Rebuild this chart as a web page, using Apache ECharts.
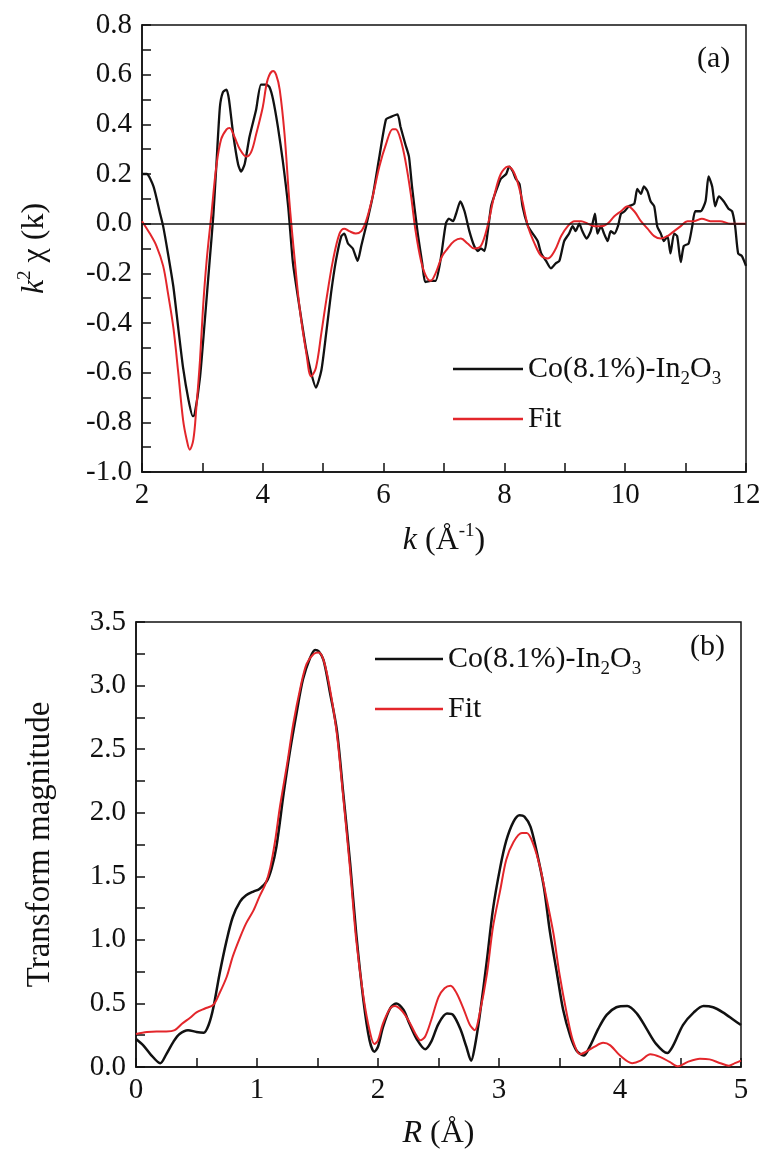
<!DOCTYPE html>
<html>
<head>
<meta charset="utf-8">
<title>EXAFS fit</title>
<script src="https://cdn.jsdelivr.net/npm/echarts@6/dist/echarts.min.js"></script>
<style>
  html, body { margin: 0; padding: 0; background: #fff; }
  #chart { width: 765px; height: 1158px; }
</style>
</head>
<body>
<div id="chart"></div>
<script>
// (a) k-space: measured chi(k)*k^2 and fit
var kExp = [2.0, 2.08, 2.19, 2.30, 2.35, 2.43, 2.52, 2.60, 2.68, 2.77, 2.84, 2.87, 2.96, 3.04, 3.12, 3.18, 3.23, 3.29, 3.34, 3.40,
    3.44, 3.51, 3.59, 3.64, 3.70, 3.78, 3.89, 3.97, 4.06, 4.11, 4.17, 4.25, 4.33, 4.42, 4.50, 4.61, 4.72, 4.80, 4.88, 4.97,
    5.05, 5.13, 5.21, 5.30, 5.35, 5.41, 5.49, 5.57, 5.63, 5.71, 5.82, 5.93, 6.04, 6.12, 6.23, 6.28, 6.36, 6.42, 6.47, 6.56,
    6.64, 6.69, 6.78, 6.86, 6.94, 7.03, 7.08, 7.15, 7.20, 7.27, 7.34, 7.42, 7.50, 7.56, 7.61, 7.67, 7.72, 7.78, 7.83, 7.89,
    7.94, 8.03, 8.08, 8.14, 8.19, 8.25, 8.30, 8.39, 8.47, 8.55, 8.61, 8.69, 8.77, 8.85, 8.91, 8.99, 9.07, 9.13, 9.18, 9.24,
    9.29, 9.36, 9.43, 9.50, 9.54, 9.60, 9.65, 9.71, 9.76, 9.82, 9.88, 9.93, 9.99, 10.06, 10.15, 10.20, 10.26, 10.31, 10.37, 10.42,
    10.48, 10.53, 10.59, 10.64, 10.70, 10.75, 10.81, 10.86, 10.92, 10.97, 11.05, 11.11, 11.16, 11.25, 11.33, 11.38, 11.44, 11.49, 11.55, 11.63,
    11.71, 11.77, 11.82, 11.87, 11.93, 12.0];
var chiExp = [0.20, 0.20, 0.15, 0.04, -0.01, -0.12, -0.255, -0.42, -0.58, -0.71, -0.775, -0.77, -0.62, -0.39, -0.15, 0.03, 0.23, 0.47, 0.53, 0.54,
    0.50, 0.36, 0.24, 0.21, 0.24, 0.35, 0.46, 0.56, 0.56, 0.55, 0.50, 0.39, 0.255, 0.07, -0.16, -0.34, -0.51, -0.60, -0.66, -0.59,
    -0.44, -0.28, -0.15, -0.05, -0.04, -0.08, -0.10, -0.15, -0.09, -0.01, 0.11, 0.27, 0.42, 0.43, 0.44, 0.39, 0.32, 0.27, 0.15, -0.03,
    -0.16, -0.235, -0.23, -0.23, -0.15, 0.0, 0.02, 0.01, 0.04, 0.09, 0.05, -0.03, -0.09, -0.11, -0.10, -0.11, -0.04, 0.07, 0.11, 0.15,
    0.18, 0.20, 0.23, 0.21, 0.18, 0.16, 0.07, -0.01, -0.04, -0.07, -0.12, -0.15, -0.18, -0.16, -0.15, -0.07, -0.04, -0.01, -0.03, 0.0,
    -0.03, -0.06, -0.03, 0.04, -0.04, -0.01, -0.04, -0.07, -0.03, -0.04, -0.01, 0.04, 0.05, 0.07, 0.08, 0.14, 0.12, 0.15, 0.13, 0.09,
    0.07, -0.01, -0.04, -0.07, -0.05, -0.12, -0.04, -0.05, -0.155, -0.09, -0.08, -0.01, 0.05, 0.05, 0.09, 0.19, 0.15, 0.07, 0.11, 0.09,
    0.06, 0.05, -0.01, -0.12, -0.13, -0.17];
var kFit = [2.0, 2.13, 2.24, 2.35, 2.43, 2.52, 2.60, 2.68, 2.74, 2.79, 2.85, 2.90, 2.96, 3.01, 3.07, 3.15, 3.23, 3.31, 3.40, 3.45,
    3.53, 3.62, 3.73, 3.81, 3.89, 4.00, 4.08, 4.17, 4.22, 4.28, 4.36, 4.44, 4.53, 4.61, 4.72, 4.80, 4.88, 4.97, 5.05, 5.16,
    5.27, 5.35, 5.43, 5.54, 5.63, 5.71, 5.82, 5.93, 6.04, 6.15, 6.20, 6.28, 6.36, 6.45, 6.53, 6.62, 6.70, 6.78, 6.86, 6.97,
    7.06, 7.17, 7.28, 7.39, 7.50, 7.61, 7.72, 7.83, 7.94, 8.06, 8.17, 8.28, 8.39, 8.50, 8.61, 8.72, 8.83, 8.94, 9.05, 9.16,
    9.27, 9.38, 9.49, 9.60, 9.71, 9.82, 9.93, 10.04, 10.15, 10.26, 10.37, 10.48, 10.59, 10.70, 10.81, 10.92, 11.03, 11.14, 11.27, 11.41,
    11.57, 11.74, 12.0];
var chiFit = [0.01, -0.04, -0.09, -0.17, -0.28, -0.42, -0.60, -0.79, -0.87, -0.91, -0.87, -0.74, -0.55, -0.34, -0.15, 0.04, 0.23, 0.34, 0.38, 0.385,
    0.35, 0.30, 0.27, 0.29, 0.36, 0.47, 0.58, 0.615, 0.60, 0.54, 0.36, 0.09, -0.15, -0.34, -0.52, -0.615, -0.58, -0.44, -0.31, -0.15,
    -0.04, -0.02, -0.03, -0.04, -0.03, 0.01, 0.11, 0.23, 0.32, 0.38, 0.38, 0.34, 0.255, 0.12, -0.03, -0.15, -0.21, -0.23, -0.20, -0.13,
    -0.10, -0.07, -0.06, -0.08, -0.10, -0.09, -0.01, 0.11, 0.20, 0.23, 0.20, 0.11, -0.01, -0.08, -0.13, -0.14, -0.11, -0.05, -0.01, 0.01,
    0.01, 0.0, -0.01, -0.01, 0.0, 0.03, 0.05, 0.07, 0.05, 0.01, -0.02, -0.05, -0.06, -0.05, -0.03, -0.01, 0.01, 0.01, 0.02, 0.01,
    0.01, 0.0, 0.0];

// (b) R-space: Fourier transform magnitude and fit
var rExp = [0, 0.06, 0.12, 0.20, 0.25, 0.31, 0.36, 0.43, 0.50, 0.56, 0.60, 0.64, 0.69, 0.75, 0.80, 0.86, 0.91, 0.97, 1.02, 1.08,
    1.12, 1.16, 1.22, 1.27, 1.33, 1.38, 1.44, 1.48, 1.51, 1.55, 1.60, 1.66, 1.71, 1.77, 1.82, 1.88, 1.93, 1.97, 2.00, 2.04,
    2.10, 2.15, 2.21, 2.26, 2.32, 2.39, 2.44, 2.50, 2.57, 2.62, 2.68, 2.73, 2.77, 2.80, 2.84, 2.90, 2.95, 3.01, 3.06, 3.12,
    3.17, 3.21, 3.26, 3.31, 3.37, 3.42, 3.48, 3.53, 3.59, 3.64, 3.70, 3.75, 3.82, 3.89, 3.97, 4.06, 4.14, 4.22, 4.30, 4.39,
    4.44, 4.52, 4.61, 4.69, 4.77, 4.85, 4.94, 5.0];
var ftExp = [0.22, 0.17, 0.10, 0.03, 0.10, 0.20, 0.26, 0.29, 0.275, 0.27, 0.33, 0.47, 0.73, 1.0, 1.18, 1.30, 1.35, 1.38, 1.40, 1.46,
    1.56, 1.73, 2.15, 2.47, 2.80, 3.05, 3.22, 3.28, 3.27, 3.20, 2.96, 2.65, 2.18, 1.60, 1.05, 0.52, 0.21, 0.12, 0.16, 0.31,
    0.46, 0.50, 0.45, 0.34, 0.22, 0.14, 0.20, 0.34, 0.42, 0.41, 0.30, 0.16, 0.05, 0.16, 0.40, 0.84, 1.24, 1.57, 1.78, 1.93,
    1.98, 1.97, 1.89, 1.70, 1.42, 1.07, 0.73, 0.45, 0.24, 0.13, 0.09, 0.16, 0.30, 0.41, 0.47, 0.48, 0.42, 0.30, 0.18, 0.11,
    0.17, 0.33, 0.43, 0.48, 0.47, 0.43, 0.37, 0.33];
var rFit = [0, 0.09, 0.17, 0.25, 0.32, 0.38, 0.45, 0.50, 0.57, 0.64, 0.69, 0.75, 0.80, 0.86, 0.91, 0.97, 1.02, 1.07, 1.11, 1.15,
    1.19, 1.25, 1.30, 1.36, 1.41, 1.47, 1.51, 1.55, 1.60, 1.66, 1.71, 1.77, 1.82, 1.88, 1.93, 1.97, 2.00, 2.04, 2.10, 2.14,
    2.19, 2.25, 2.31, 2.35, 2.39, 2.44, 2.50, 2.55, 2.60, 2.65, 2.71, 2.76, 2.80, 2.84, 2.90, 2.95, 3.01, 3.06, 3.12, 3.19,
    3.23, 3.28, 3.34, 3.39, 3.45, 3.50, 3.56, 3.61, 3.67, 3.72, 3.79, 3.86, 3.92, 4.00, 4.10, 4.17, 4.25, 4.33, 4.41, 4.48,
    4.56, 4.66, 4.74, 4.83, 4.90, 4.95, 5.0];
var ftFit = [0.26, 0.275, 0.28, 0.28, 0.29, 0.34, 0.39, 0.43, 0.46, 0.49, 0.58, 0.71, 0.87, 1.02, 1.13, 1.23, 1.34, 1.44, 1.57, 1.78,
    2.05, 2.39, 2.70, 2.99, 3.17, 3.25, 3.26, 3.20, 2.99, 2.62, 2.15, 1.55, 1.0, 0.55, 0.29, 0.18, 0.21, 0.34, 0.46, 0.48,
    0.45, 0.37, 0.26, 0.21, 0.24, 0.37, 0.55, 0.62, 0.64, 0.58, 0.45, 0.33, 0.29, 0.42, 0.73, 1.10, 1.39, 1.63, 1.77, 1.84,
    1.84, 1.76, 1.57, 1.34, 1.05, 0.73, 0.42, 0.21, 0.10, 0.12, 0.16, 0.19, 0.17, 0.09, 0.03, 0.05, 0.10, 0.08, 0.04, 0.005,
    0.04, 0.065, 0.06, 0.03, 0.01, 0.03, 0.05];

var SAMPLE = 'Co(8.1%)-In2O3';
var FIT = 'Fit';

var FONT = 'Liberation Serif';
var INK = '#111';
var RED = '#e3262b';

function pairs(xs, ys) {
    return xs.map(function (x, i) { return [x, ys[i]]; });
}

var richText = {
    t: { fontFamily: FONT, fontSize: 32, color: INK, lineHeight: 38 },
    i: { fontFamily: FONT, fontSize: 32, color: INK, fontStyle: 'italic', lineHeight: 38 },
    p: { fontFamily: FONT, fontSize: 19, color: INK, verticalAlign: 'top', lineHeight: 19 }
};
var richLong = {
    t: { fontFamily: FONT, fontSize: 33, color: INK, lineHeight: 38 }
};

function legendText(name) {
    if (name === FIT) return '{t|Fit}';
    return '{t|Co(8.1%)-In}{s|2}{t|O}{s|3}';
}
var legendRich = {
    t: { fontFamily: FONT, fontSize: 30, color: INK, lineHeight: 34 },
    s: { fontFamily: FONT, fontSize: 19, color: INK, verticalAlign: 'top', lineHeight: 19, padding: [18, 0, 0, 0] }
};

function xAxisOf(gridIndex, min, max, interval, nameStr, gap) {
    return {
        type: 'value', gridIndex: gridIndex, min: min, max: max, interval: interval,
        name: nameStr, nameLocation: 'middle', nameGap: gap,
        nameTextStyle: { rich: richText },
        axisLine: { onZero: false, lineStyle: { color: INK, width: 1.5 } },
        axisTick: { inside: true, length: 9, lineStyle: { color: INK, width: 1.5 } },
        minorTick: { show: true, splitNumber: 2, length: 9, lineStyle: { color: INK, width: 1.5 } },
        axisLabel: { fontFamily: FONT, fontSize: 29, color: INK, margin: 9 },
        splitLine: { show: false }
    };
}
function yAxisOf(gridIndex, min, max, interval, nameStr, gap, rich) {
    return {
        type: 'value', gridIndex: gridIndex, min: min, max: max, interval: interval,
        name: nameStr, nameLocation: 'middle', nameGap: gap, nameRotate: 90,
        nameTextStyle: { rich: rich },
        axisLine: { onZero: false, lineStyle: { color: INK, width: 1.5 } },
        axisTick: { inside: true, length: 9, lineStyle: { color: INK, width: 1.5 } },
        minorTick: { show: true, splitNumber: 2, length: 9, lineStyle: { color: INK, width: 1.5 } },
        axisLabel: {
            fontFamily: FONT, fontSize: 29, color: INK, margin: 10,
            formatter: function (v) { return v.toFixed(1); }
        },
        splitLine: { show: false }
    };
}

var chart = echarts.init(document.getElementById('chart'), null, { renderer: 'canvas' });

var option = {
    backgroundColor: '#fff',
    animation: false,
    title: [
        { text: '(a)', left: 697, top: 44, padding: 0, textStyle: { fontFamily: FONT, fontWeight: 'normal', fontSize: 30, color: INK } },
        { text: '(b)', left: 690, top: 632, padding: 0, textStyle: { fontFamily: FONT, fontWeight: 'normal', fontSize: 30, color: INK } }
    ],
    legend: [
        {
            data: [SAMPLE, FIT], orient: 'vertical', left: 453, top: 352, padding: 0,
            icon: 'rect', itemWidth: 70, itemHeight: 2.5, itemGap: 15, itemTextGap: 7,
            formatter: legendText, textStyle: { rich: legendRich }, selectedMode: false
        },
        {
            data: [SAMPLE, FIT], orient: 'vertical', left: 375, top: 642, padding: 0,
            icon: 'rect', itemWidth: 68, itemHeight: 2.5, itemGap: 15, itemTextGap: 6,
            formatter: legendText, textStyle: { rich: legendRich }, selectedMode: false
        }
    ],
    grid: [
        { left: 142, top: 25, width: 604, height: 447, show: true, borderColor: INK, borderWidth: 1.5, backgroundColor: 'transparent' },
        { left: 136, top: 622, width: 605, height: 445, show: true, borderColor: INK, borderWidth: 1.5, backgroundColor: 'transparent' }
    ],
    xAxis: [
        xAxisOf(0, 2, 12, 2, '{i|k}{t| (Å}{p|-1}{t|)}', 50),
        xAxisOf(1, 0, 5, 1, '{i|R}{t| (Å)}', 48)
    ],
    yAxis: [
        yAxisOf(0, -1, 0.8, 0.2, '{i|k}{p|2}{t| χ (k)}', 88, richText),
        yAxisOf(1, 0, 3.5, 0.5, '{t|Transform magnitude}', 77, richLong)
    ],
    series: [
        {
            name: SAMPLE, type: 'line', xAxisIndex: 0, yAxisIndex: 0,
            data: pairs(kExp, chiExp), showSymbol: false, smooth: 0.2,
            lineStyle: { color: INK, width: 2.3 }, itemStyle: { color: INK },
            markLine: {
                silent: true, symbol: ['none', 'none'], label: { show: false },
                lineStyle: { color: INK, width: 1.5, type: 'solid' },
                data: [{ yAxis: 0 }]
            }
        },
        {
            name: FIT, type: 'line', xAxisIndex: 0, yAxisIndex: 0,
            data: pairs(kFit, chiFit), showSymbol: false, smooth: 0.35,
            lineStyle: { color: RED, width: 2 }, itemStyle: { color: RED }
        },
        {
            name: SAMPLE, type: 'line', xAxisIndex: 1, yAxisIndex: 1,
            data: pairs(rExp, ftExp), showSymbol: false, smooth: 0.3,
            lineStyle: { color: INK, width: 2.5 }, itemStyle: { color: INK }
        },
        {
            name: FIT, type: 'line', xAxisIndex: 1, yAxisIndex: 1,
            data: pairs(rFit, ftFit), showSymbol: false, smooth: 0.3,
            lineStyle: { color: RED, width: 2 }, itemStyle: { color: RED }
        }
    ]
};
chart.setOption(option);
</script>
</body>
</html>
